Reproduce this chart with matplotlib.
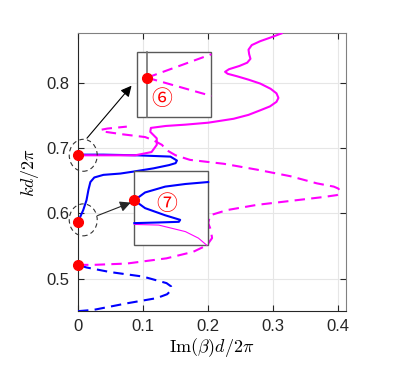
import numpy as np
import matplotlib
matplotlib.use('Agg')
import matplotlib.pyplot as plt
from matplotlib.patches import Rectangle, Ellipse

plt.rcParams['font.family'] = ['Liberation Sans', 'DejaVu Sans']
plt.rcParams['mathtext.fontset'] = 'cm'

# --- dati (Im(beta)d/2pi , kd/2pi) ---
# banda inferiore, blu tratteggiata
blu_tr_x = [0.0, 0.024, 0.075, 0.121, 0.137, 0.143, 0.143, 0.136, 0.100, 0.049, 0.013, 0.0]
blu_tr_k = [0.450, 0.452, 0.462, 0.470, 0.476, 0.482, 0.488, 0.493, 0.503, 0.510, 0.517, 0.521]

# blu continua
blu_x = [0.0, 0.008, 0.013, 0.016, 0.019, 0.025, 0.039, 0.065, 0.085, 0.116,
         0.140, 0.150, 0.152, 0.142, 0.090, 0.039, 0.0]
blu_k = [0.587, 0.605, 0.620, 0.636, 0.648, 0.655, 0.659, 0.661, 0.664, 0.669,
         0.674, 0.677, 0.681, 0.687, 0.689, 0.690, 0.690]

# magenta continua
mag_x = [0.0, 0.088, 0.113, 0.121, 0.121, 0.111, 0.112, 0.135, 0.165, 0.200,
         0.239, 0.262, 0.280, 0.295, 0.305, 0.308, 0.305, 0.296, 0.280, 0.262,
         0.245, 0.230, 0.226, 0.232, 0.248, 0.260, 0.265, 0.263, 0.262, 0.267,
         0.280, 0.297, 0.313]
mag_k = [0.689, 0.689, 0.694, 0.705, 0.715, 0.725, 0.731, 0.734, 0.736, 0.739,
         0.745, 0.751, 0.758, 0.764, 0.771, 0.777, 0.784, 0.791, 0.799, 0.805,
         0.810, 0.814, 0.817, 0.821, 0.826, 0.831, 0.837, 0.844, 0.851, 0.858,
         0.864, 0.870, 0.876]

# magenta tratteggiata
mag_tr_x = [0.0, 0.024, 0.075, 0.136, 0.177, 0.198, 0.206, 0.204, 0.200, 0.203,
            0.229, 0.275, 0.326, 0.377, 0.398, 0.402, 0.403, 0.400, 0.393, 0.367,
            0.326, 0.275, 0.224, 0.172, 0.150, 0.136, 0.129, 0.116, 0.103, 0.070,
            0.042, 0.035, 0.045, 0.075]
mag_tr_k = [0.521, 0.521, 0.523, 0.531, 0.541, 0.551, 0.562, 0.575, 0.585, 0.597,
            0.605, 0.613, 0.619, 0.625, 0.628, 0.630, 0.634, 0.638, 0.641, 0.646,
            0.657, 0.667, 0.676, 0.682, 0.689, 0.697, 0.705, 0.712, 0.717, 0.721,
            0.725, 0.728, 0.730, 0.733]

# punti rossi sull'asse
punti_x = [0.0, 0.0, 0.0]
punti_k = [0.690, 0.587, 0.521]

# riquadro 6
box6 = [0.090, 0.747, 0.205, 0.847]   # x0, k0, x1, k1
box6_dot = (0.106, 0.808)
box6_fine_k = [0.844, 0.780]

# riquadro 7
box7 = [0.0866, 0.551, 0.2005, 0.665]
box7_blu_x = [0.2, 0.165, 0.134, 0.103, 0.0866, 0.103, 0.134, 0.157, 0.155, 0.124, 0.0866]
box7_blu_k = [0.648, 0.645, 0.641, 0.632, 0.620, 0.608, 0.597, 0.590, 0.587, 0.586, 0.585]
box7_mag_x = [0.0866, 0.124, 0.165, 0.185, 0.198]
box7_mag_k = [0.583, 0.582, 0.572, 0.562, 0.551]

blu = (0, 0, 1)
mag = (1, 0, 1)
rosso = (1, 0, 0)
cerchiate = ['Noto Sans CJK JP', 'DejaVu Sans']

fig = plt.figure(figsize=(4.15, 3.79), dpi=100)
ax = fig.add_axes([0.188, 0.179, 0.646, 0.733])

kw = dict(solid_joinstyle='round', dash_joinstyle='round')
ax.plot(blu_tr_x, blu_tr_k, '--', color=blu, lw=1.5, dashes=(5, 3), zorder=3, **kw)
ax.plot(mag_tr_x, mag_tr_k, '--', color=mag, lw=1.5, dashes=(5, 3), zorder=3, **kw)
ax.plot(blu_x, blu_k, '-', color=blu, lw=1.5, zorder=3, **kw)
ax.plot(mag_x, mag_k, '-', color=mag, lw=1.5, zorder=4, **kw)

# riquadri
for b in (box6, box7):
    ax.add_patch(Rectangle((b[0], b[1]), b[2] - b[0], b[3] - b[1], facecolor='white',
                           edgecolor=(0.35, 0.35, 0.35), lw=1.0, zorder=5))

ax.plot([box6_dot[0], box6_dot[0]], [box6[1], box6[3]], color=(0.45, 0.45, 0.45), lw=1.2, zorder=6)
for kf in box6_fine_k:
    ax.plot([box6_dot[0], box6[2]], [box6_dot[1], kf], '--', color=mag, lw=1.5,
            dashes=(5, 3), zorder=6)
ax.plot(*box6_dot, 'o', color=rosso, ms=7, zorder=8)
ax.text(0.128, 0.776, '⑥', color=rosso, fontsize=15, family=cerchiate,
        ha='center', va='center', zorder=8)

ax.plot(box7_mag_x, box7_mag_k, '-', color=mag, lw=0.8, zorder=6)
ax.plot(box7_blu_x, box7_blu_k, '-', color=blu, lw=1.5, zorder=6, **kw)
ax.plot(box7[0], 0.620, 'o', color=rosso, ms=7, zorder=8, clip_on=False)
ax.text(0.136, 0.615, '⑦', color=rosso, fontsize=15, family=cerchiate,
        ha='center', va='center', zorder=8)

# cerchi tratteggiati e frecce
for kc in (0.689, 0.590):
    ax.add_patch(Ellipse((0.008, kc), 0.043, 0.049, fill=False, ls=(0, (4, 3)),
                         edgecolor=(0.2, 0.2, 0.2), lw=0.8, clip_on=False, zorder=7))
ax.annotate('', xy=(0.085, 0.799), xytext=(0.011, 0.712),
            arrowprops=dict(arrowstyle='-|>', color='k', lw=0.8, mutation_scale=16), zorder=9)
ax.annotate('', xy=(0.085, 0.618), xytext=(0.026, 0.595),
            arrowprops=dict(arrowstyle='-|>', color=(0.15, 0.15, 0.15), lw=0.8, mutation_scale=16), zorder=9)

ax.plot(punti_x, punti_k, 'o', color=rosso, ms=7, zorder=10, clip_on=False)

ax.set_xlim(0, 0.412)
ax.set_ylim(0.45, 0.876)
ax.set_xticks([0, 0.1, 0.2, 0.3, 0.4])
ax.set_xticklabels(['0', '0.1', '0.2', '0.3', '0.4'])
ax.set_yticks([0.5, 0.6, 0.7, 0.8])
ax.grid(True, color=(0.9, 0.9, 0.9), lw=0.8)
ax.set_axisbelow(True)
ax.tick_params(direction='in', top=True, right=True, labelsize=12, length=4,
               color=(0.15, 0.15, 0.15), labelcolor=(0.15, 0.15, 0.15), pad=6)
for s in ax.spines.values():
    s.set_color((0.15, 0.15, 0.15))
    s.set_linewidth(0.8)
ax.spines['top'].set_color((0.5, 0.5, 0.5))
ax.spines['right'].set_color((0.5, 0.5, 0.5))

ax.set_xlabel(r'$\mathrm{Im}(\beta)d/2\pi$', fontsize=13, labelpad=1)
ax.set_ylabel(r'$kd/2\pi$', fontsize=13, labelpad=4)

fig.savefig('out.png', dpi=100)
